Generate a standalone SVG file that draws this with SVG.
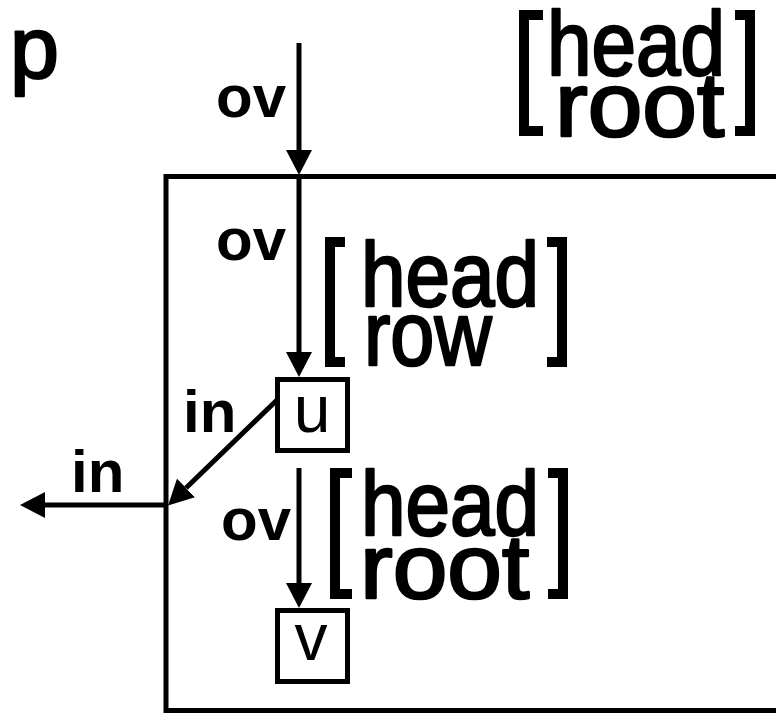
<svg xmlns="http://www.w3.org/2000/svg" width="776" height="714" viewBox="0 0 776 714">
  <style>
    .lbl { font-family: "Liberation Sans", Arial, sans-serif; font-weight: bold; font-size: 60px; fill: #000; }
    .avm { font-family: "Liberation Sans", Arial, sans-serif; font-weight: normal; font-size: 91px; fill: #000; stroke: #000; stroke-width: 2.5; stroke-linejoin: round; }
    .nd { font-family: "Liberation Sans", Arial, sans-serif; font-size: 66px; fill: #000; text-anchor: middle; }
    .brk { fill: none; stroke: #000; stroke-width: 10; stroke-linecap: butt; stroke-linejoin: miter; }
    .box { fill: none; stroke: #000; stroke-width: 5; }
    .edge { fill: none; stroke: #000; stroke-width: 5; }
  </style>
  <defs>
    <marker id="arr" viewBox="0 -13 25 26" refX="0" refY="0" markerWidth="25" markerHeight="26" markerUnits="userSpaceOnUse" orient="auto">
      <path d="M0,-13 L25,0 L0,13 Z" fill="#000"/>
    </marker>
  </defs>
  <rect width="776" height="714" fill="#fff"/>

  <g id="p-label">
    <text class="avm" x="10" y="78" style="font-size:88px">p</text>
  </g>

  <g id="avm-top">
    <path class="brk" d="M543,15 H524 V131 H543"/>
    <path class="brk" d="M735,15 H750 V131 H735"/>
    <text class="avm" transform="translate(547,75) scale(0.88,1)">head</text>
    <text class="avm" transform="translate(555,136) scale(1.08,1)">root</text>
  </g>

  <g id="box-p">
    <rect class="box" x="166" y="176.5" width="700" height="534"/>
  </g>

  <g id="avm-mid">
    <path class="brk" d="M345,242 H330 V362 H345"/>
    <path class="brk" d="M547,242 H562 V362 H547"/>
    <text class="avm" transform="translate(361,306) scale(0.88,1)">head</text>
    <text class="avm" transform="translate(364,365) scale(0.87,1)">row</text>
  </g>

  <g id="node-u">
    <rect class="box" x="277.5" y="379.5" width="70" height="71"/>
    <text class="nd" x="312" y="432">u</text>
  </g>

  <g id="avm-low">
    <path class="brk" d="M352,473 H335 V594 H352"/>
    <path class="brk" d="M548,473 H563 V594 H548"/>
    <text class="avm" transform="translate(361,535) scale(0.88,1)">head</text>
    <text class="avm" transform="translate(360,598) scale(1.08,1)">root</text>
  </g>

  <g id="node-v">
    <rect class="box" x="277.5" y="610.5" width="70" height="71"/>
    <text class="nd" x="311" y="660">v</text>
  </g>

  <g id="connectors">
    <path class="edge" d="M299,43 V150" marker-end="url(#arr)"/>
    <path class="edge" d="M299,176 V352" marker-end="url(#arr)"/>
    <path class="edge" d="M299,468 V583" marker-end="url(#arr)"/>
    <path class="edge" d="M277,400 L186,488" marker-end="url(#arr)"/>
    <path class="edge" d="M166,505 H45" marker-end="url(#arr)"/>
    <text class="lbl" x="216" y="117">ov</text>
    <text class="lbl" x="216" y="260">ov</text>
    <text class="lbl" x="221" y="540">ov</text>
    <text class="lbl" x="183" y="432">in</text>
    <text class="lbl" x="71" y="492">in</text>
  </g>
</svg>
